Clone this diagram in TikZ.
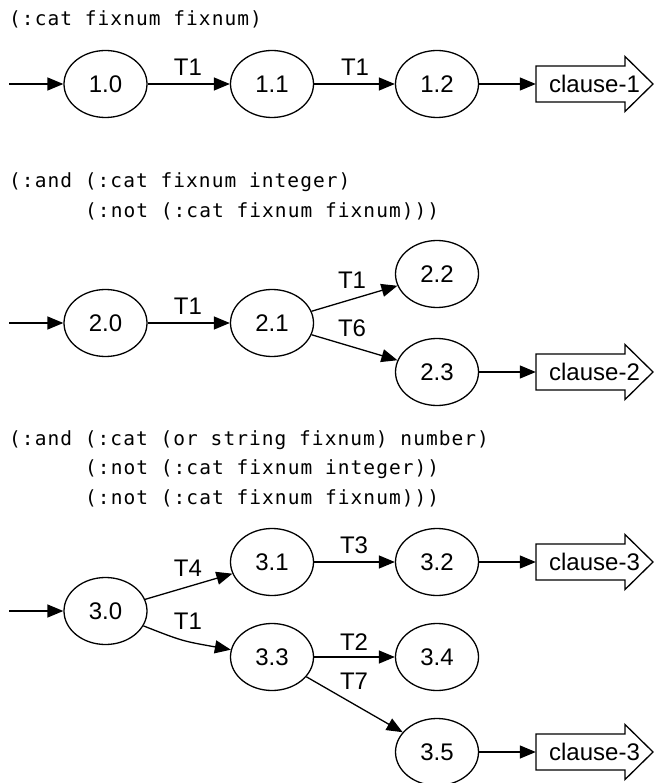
\documentclass[tikz,border=0pt]{standalone}
\usepackage{fontspec}
\setmainfont{Liberation Sans}
\newfontfamily\codefont[LetterSpace=5.4]{DejaVu Sans Mono}
\usetikzlibrary{shapes.geometric,arrows.meta}

\begin{document}
\begin{tikzpicture}[x=1pt,y=-1pt,
  state/.style={ellipse,draw,line width=1.3pt,minimum width=83pt,minimum height=67pt,
    inner sep=0pt,font=\fontsize{24}{28}\selectfont},
  clause/.style={rectangle,minimum width=117pt,minimum height=55pt,inner sep=0pt,
    font=\fontsize{24}{28}\selectfont},
  outline/.style={line width=1.3pt,line join=miter},
  edge/.style={line width=1.3pt,-{Triangle[length=16pt,width=13pt]}},
  lab/.style={inner sep=0pt,font=\fontsize{24}{28}\selectfont},
  code/.style={anchor=base west,inner sep=0pt,font=\codefont\fontsize{19.5}{29.5}\selectfont}]

\useasboundingbox[fill=white] (0,0) rectangle (664,783);

% ---------- first expression ----------
\node[code] (e1) at (9,26) {(:cat fixnum fixnum)};

\coordinate (s1) at (9,84);
\node[state] (n10) at (105.5,84) {1.0};
\node[state] (n11) at (272,84) {1.1};
\node[state] (n12) at (437,84) {1.2};
\node[clause] (c1) at (594.5,84) {clause-1};

\draw[edge] (s1) -- (n10);
\draw[edge] (n10) -- (n11);
\draw[edge] (n11) -- (n12);
\draw[edge] (n12) -- (c1);
\node[lab] (l11) at (188,67) {T1};
\node[lab] (l12) at (355,67) {T1};

% ---------- second expression ----------
\node[code] (e2a) at (9,188) {(:and (:cat fixnum integer)};
\node[code] (e2b) at (85,218) {(:not (:cat fixnum fixnum)))};

\coordinate (s2) at (9,323);
\node[state] (n20) at (105.5,323) {2.0};
\node[state] (n21) at (272,323) {2.1};
\node[state] (n22) at (437,274) {2.2};
\node[state] (n23) at (437,372) {2.3};
\node[clause] (c2) at (594.5,372) {clause-2};

\draw[edge] (s2) -- (n20);
\draw[edge] (n20) -- (n21);
\draw[edge] (n21) -- (n22);
\draw[edge] (n21) -- (n23);
\draw[edge] (n23) -- (c2);
\node[lab] (l21) at (188,306) {T1};
\node[lab] (l22) at (352,280) {T1};
\node[lab] (l23) at (352,328) {T6};

% ---------- third expression ----------
\node[code] (e3a) at (9,445) {(:and (:cat (or string fixnum) number)};
\node[code] (e3b) at (85,474.5) {(:not (:cat fixnum integer))};
\node[code] (e3c) at (85,504) {(:not (:cat fixnum fixnum)))};

\coordinate (s3) at (9,611);
\node[state] (n30) at (105.5,611) {3.0};
\node[state] (n31) at (272,562) {3.1};
\node[state] (n32) at (437,562) {3.2};
\node[clause] (c3a) at (594.5,562) {clause-3};
\node[state] (n33) at (272,657) {3.3};
\node[state] (n34) at (437,657) {3.4};
\node[state] (n35) at (437,752) {3.5};
\node[clause] (c3b) at (594.5,752) {clause-3};

\draw[edge] (s3) -- (n30);
\draw[edge] (n30) -- (n31);
\draw[edge] (n30) .. controls (182,641) .. (n33);
\draw[edge] (n31) -- (n32);
\draw[edge] (n32) -- (c3a);
\draw[edge] (n33) -- (n34);
\draw[edge] (n33) -- (n35);
\draw[edge] (n35) -- (c3b);
\node[lab] (l31) at (188,568) {T4};
\node[lab] (l32) at (188,621) {T1};
\node[lab] (l33) at (354,545) {T3};
\node[lab] (l34) at (354,642) {T2};
\node[lab] (l35) at (354,681) {T7};

% arrow-shaped outlines of the clause boxes
\foreach \c in {c1,c2,c3a,c3b}
  \draw[outline,shift={(\c.center)}]
    (-58.5,-18) -- (30.5,-18) -- (30.5,-27.5) -- (58.5,0)
    -- (30.5,27.5) -- (30.5,18) -- (-58.5,18) -- cycle;
\end{tikzpicture}
\end{document}
